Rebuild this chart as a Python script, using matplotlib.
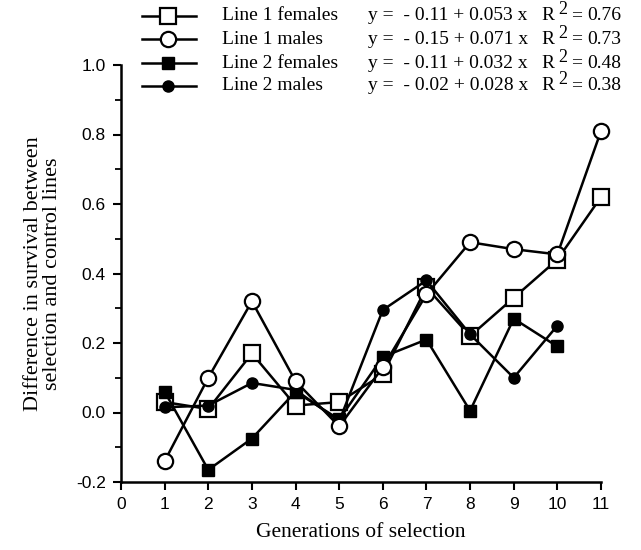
import matplotlib.pyplot as plt
from matplotlib.lines import Line2D

generations = [1, 2, 3, 4, 5, 6, 7, 8, 9, 10, 11]
gen_line2 = [1, 2, 3, 4, 5, 6, 7, 8, 9, 10]

line1_females = [0.03, 0.01, 0.17, 0.02, 0.03, 0.11, 0.36, 0.22, 0.33, 0.44, 0.62]
line1_males = [-0.14, 0.10, 0.32, 0.09, -0.04, 0.13, 0.34, 0.49, 0.47, 0.455, 0.81]
line2_females = [0.06, -0.165, -0.075, 0.06, -0.02, 0.16, 0.21, 0.005, 0.27, 0.19]
line2_males = [0.015, 0.02, 0.085, 0.065, -0.025, 0.295, 0.38, 0.225, 0.10, 0.25]

names = ["Line 1 females", "Line 1 males", "Line 2 females", "Line 2 males"]
equations = ["y =  - 0.11 + 0.053 x", "y =  - 0.15 + 0.071 x",
             "y =  - 0.11 + 0.032 x", "y =  - 0.02 + 0.028 x"]
r_squared = ["0.76", "0.73", "0.48", "0.38"]

serif = 'Liberation Serif'
sans = 'Liberation Sans'

fig = plt.figure(figsize=(6.41, 5.50), dpi=100)
ax = fig.add_axes([121 / 641, 1 - 482 / 550, 480 / 641, 417 / 550])

styles = [
    dict(marker='s', ms=11, mfc='white', mec='black', mew=1.6),   # line 1 females
    dict(marker='o', ms=11, mfc='white', mec='black', mew=1.6),   # line 1 males
    dict(marker='s', ms=8.5, mfc='black', mec='black', mew=1),    # line 2 females
    dict(marker='o', ms=8, mfc='black', mec='black', mew=1),      # line 2 males
]

ax.plot(generations, line1_females, color='black', lw=1.8, zorder=3, clip_on=False, **styles[0])
ax.plot(gen_line2, line2_females, color='black', lw=1.8, zorder=4, clip_on=False, **styles[2])
ax.plot(gen_line2, line2_males, color='black', lw=1.8, zorder=5, clip_on=False, **styles[3])
ax.plot(generations, line1_males, color='black', lw=1.8, zorder=6, clip_on=False, **styles[1])

ax.set_xlim(0, 11)
ax.set_ylim(-0.2, 1.0)
ax.set_xticks(range(0, 12))
ax.set_yticks([-0.2, 0.0, 0.2, 0.4, 0.6, 0.8, 1.0])
ax.set_yticks([-0.1, 0.1, 0.3, 0.5, 0.7, 0.9], minor=True)
ax.set_yticklabels(["-0.2", "0.0", "0.2", "0.4", "0.6", "0.8", "1.0"])

for side in ['top', 'right']:
    ax.spines[side].set_visible(False)
for side in ['left', 'bottom']:
    ax.spines[side].set_linewidth(1.8)

ax.tick_params(axis='both', which='major', direction='out', length=6, width=1.5,
               labelsize=12.5, pad=5)
ax.tick_params(axis='y', which='minor', direction='out', length=4, width=1.3)
for lab in ax.get_xticklabels() + ax.get_yticklabels():
    lab.set_fontfamily(sans)

ax.set_xlabel("Generations of selection", fontfamily=serif, fontsize=15.5, labelpad=8)
ax.set_ylabel("Difference in survival between\nselection and control lines",
              fontfamily=serif, fontsize=16, labelpad=10, linespacing=1.0)

# legend drawn by hand at the top, with equation columns
row_y = [16, 39, 63, 86]
for i in range(4):
    yf = 1 - row_y[i] / 550
    fig.add_artist(Line2D([142 / 641, 196 / 641], [yf, yf], color='black', lw=1.8,
                          transform=fig.transFigure))
    fig.add_artist(Line2D([168 / 641], [yf], color='black', lw=0,
                          transform=fig.transFigure, **styles[i]))
    fig.text(222 / 641, yf, names[i], fontfamily=serif, fontsize=14, va='center')
    fig.text(368 / 641, yf, equations[i], fontfamily=serif, fontsize=14, va='center')
    fig.text(541 / 641, yf, "R", fontfamily=serif, fontsize=14, va='center')
    fig.text(558 / 641, yf + 6 / 550, "2", fontfamily=serif, fontsize=13, va='center')
    fig.text(571 / 641, yf, "=", fontfamily=serif, fontsize=14, va='center')
    fig.text(587 / 641, yf, r_squared[i], fontfamily=serif, fontsize=14, va='center')

fig.savefig("out.png", dpi=100)
